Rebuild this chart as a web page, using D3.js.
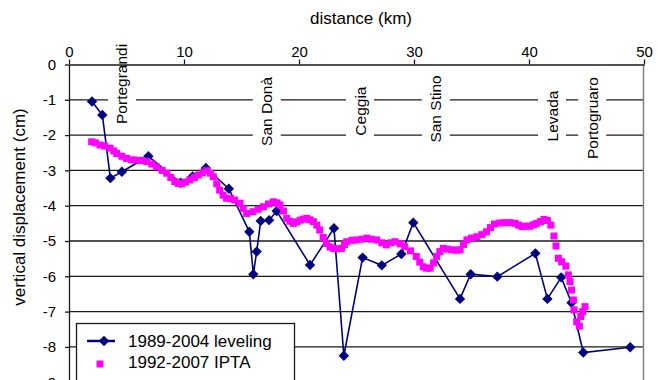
<!DOCTYPE html>
<html>
<head>
<meta charset="utf-8">
<script src="https://cdn.jsdelivr.net/npm/d3@7"></script>
<style>
  body { margin: 0; background: #fff; }
  svg { display: block; font-family: "Liberation Sans", Arial, sans-serif; }
</style>
</head>
<body>
<div id="chart-container"></div>
<script>
// 1989-2004 leveling benchmarks: distance (km), displacement (cm)
var levelingKm = [2.0, 2.9, 3.6, 4.6, 6.9, 9.7, 10.75, 11.9, 13.9, 15.68, 16.03, 16.32, 16.67, 17.4, 18.06,
  20.96, 23.04, 23.9, 25.53, 27.2, 28.9, 29.94, 34.0, 34.93, 37.24, 40.55, 41.6, 42.8, 43.7, 44.72, 48.8];
var levelingCm = [-1.05, -1.43, -3.22, -3.04, -2.6, -3.35, -3.17, -2.93, -3.52, -4.74, -5.94, -5.3, -4.43, -4.41, -4.15,
  -5.68, -4.64, -8.25, -5.47, -5.69, -5.37, -4.48, -6.64, -5.94, -6.01, -5.35, -6.64, -6.03, -6.75, -8.16, -8.01];

// 1992-2007 IPTA points
var iptaKm = [1.97, 2.3, 2.7, 3.1, 3.57, 3.9, 4.15, 4.6, 5.0, 5.45, 5.9, 6.3, 6.75, 7.2, 7.6, 8.1, 8.5, 8.85, 9.2, 9.5,
  9.8, 10.15, 10.5, 10.9, 11.25, 11.6, 11.97, 12.3, 12.55, 12.85, 13.1, 13.4, 13.7, 14.05, 14.4, 14.87, 15.15, 15.45,
  16.0, 16.45, 16.9, 17.35, 17.77, 18.1, 18.35, 18.65, 18.93, 19.2, 19.5, 19.8, 20.1, 20.4, 20.67, 20.95, 21.25, 21.55,
  21.8, 22.1, 22.4, 22.7, 22.98, 23.35, 23.7, 23.95, 24.15, 24.6, 25.0, 25.45, 25.9, 26.3, 26.75, 27.2, 27.6, 28.0,
  28.35, 28.8, 29.2, 29.7, 30.2, 30.5, 30.8, 31.1, 31.4, 31.7, 31.97, 32.25, 32.55, 32.9, 33.3, 33.65, 34.0, 34.3,
  34.6, 35.0, 35.45, 35.9, 36.3, 36.65, 37.0, 37.45, 37.9, 38.35, 38.8, 39.1, 39.4, 39.75, 40.1, 40.4, 40.67, 41.0,
  41.3, 41.6, 41.9, 42.17, 42.35, 42.55, 42.84, 43.2, 43.42, 43.57, 43.7, 43.86, 43.91, 44.15, 44.38, 44.5, 44.67, 44.87];
var iptaCm = [-2.19, -2.22, -2.28, -2.31, -2.37, -2.45, -2.52, -2.6, -2.66, -2.7, -2.71, -2.72, -2.75, -2.82, -2.9,
  -3.0, -3.08, -3.2, -3.32, -3.37, -3.38, -3.33, -3.27, -3.2, -3.13, -3.07, -3.01, -3.08, -3.18, -3.38, -3.56, -3.7,
  -3.79, -3.8, -3.84, -3.93, -4.08, -4.22, -4.17, -4.1, -4.03, -3.95, -3.89, -3.92, -3.98, -4.15, -4.36, -4.44, -4.5,
  -4.46, -4.41, -4.38, -4.36, -4.4, -4.45, -4.55, -4.69, -4.9, -5.07, -5.17, -5.21, -5.22, -5.21, -5.1, -5.02, -4.98,
  -4.97, -4.95, -4.92, -4.95, -4.97, -5.05, -5.11, -5.05, -5.02, -5.08, -5.16, -5.28, -5.44, -5.6, -5.73, -5.77, -5.77,
  -5.62, -5.44, -5.3, -5.21, -5.23, -5.25, -5.26, -5.25, -5.1, -4.97, -4.92, -4.88, -4.82, -4.74, -4.62, -4.52, -4.49,
  -4.48, -4.48, -4.5, -4.55, -4.59, -4.58, -4.58, -4.54, -4.5, -4.45, -4.39, -4.42, -4.55, -4.86, -5.14, -5.49, -5.59,
  -5.71, -5.96, -6.15, -6.39, -6.67, -6.95, -7.29, -7.41, -7.14, -7.0, -6.86];

var xTicks = [0, 10, 20, 30, 40, 50];
var yTicks = [0, -1, -2, -3, -4, -5, -6, -7, -8, -9];

var townNames = ["Portegrandi", "San Donà", "Ceggia", "San Stino", "Levada", "Portogruaro"];
var townKm = [4.6, 17.2, 25.3, 31.9, 42.0, 45.5];
var townMidCm = [-0.55, -1.33, -1.32, -1.26, -1.46, -1.52];

var seriesNames = ["1989-2004 leveling", "1992-2007 IPTA"];

var width = 658, height = 380;
var svg = d3.select("#chart-container").append("svg")
    .attr("width", width)
    .attr("height", height);

var x = d3.scaleLinear().domain([0, 50]).range([69, 644]);
var y = d3.scaleLinear().domain([0, -9]).range([64.5, 382.2]);

// horizontal gridlines
svg.append("g").selectAll("line")
    .data(yTicks.slice(1))
    .enter().append("line")
    .attr("x1", x(0)).attr("x2", x(50))
    .attr("y1", function(d) { return y(d); })
    .attr("y2", function(d) { return y(d); })
    .attr("stroke", "#1a1a1a")
    .attr("stroke-width", 1.3);

// right border
svg.append("line")
    .attr("x1", x(50) - 0.5).attr("x2", x(50) - 0.5)
    .attr("y1", y(0)).attr("y2", height)
    .attr("stroke", "#808080")
    .attr("stroke-width", 1.5);

// town labels with white boxes
var town = svg.append("g").selectAll("g")
    .data(townNames)
    .enter().append("g")
    .attr("transform", function(d, i) {
      return "translate(" + x(townKm[i]) + "," + y(townMidCm[i]) + ") rotate(-90)";
    });

town.append("text")
    .attr("text-anchor", "middle")
    .attr("dy", "0.36em")
    .attr("font-size", 15.5)
    .text(function(d) { return d; })
    .each(function() {
      var b = this.getBBox();
      d3.select(this.parentNode).insert("rect", "text")
        .attr("x", b.x - 3).attr("y", -14)
        .attr("width", b.width + 6).attr("height", 28)
        .attr("fill", "#fff");
    });

// axes
var topAxis = svg.append("g")
    .attr("transform", "translate(0," + y(0) + ")")
    .call(d3.axisTop(x).tickValues(xTicks).tickSize(5).tickSizeOuter(0).tickPadding(3));
topAxis.selectAll("text").attr("font-size", 15).attr("fill", "#000");
topAxis.selectAll("line, path").attr("stroke", "#1a1a1a").attr("stroke-width", 1.3);

var leftAxis = svg.append("g")
    .attr("transform", "translate(" + x(0) + ",0)")
    .call(d3.axisLeft(y).tickValues(yTicks).tickSize(4).tickSizeOuter(0).tickPadding(9)
      .tickFormat(function(d) { return String(d); }));
leftAxis.selectAll("text").attr("font-size", 15).attr("fill", "#000");
leftAxis.selectAll("line, path").attr("stroke", "#1a1a1a").attr("stroke-width", 1.3);

svg.append("text")
    .attr("x", 361).attr("y", 24)
    .attr("text-anchor", "middle")
    .attr("font-size", 17)
    .text("distance (km)");

svg.append("text")
    .attr("transform", "translate(19,207) rotate(-90)")
    .attr("text-anchor", "middle")
    .attr("dy", "0.35em")
    .attr("font-size", 17)
    .text("vertical displacement (cm)");

// leveling series
var navy = "#000080";
var diamond = "M0,-5.2L5.2,0L0,5.2L-5.2,0Z";
var line = d3.line()
    .x(function(d, i) { return x(levelingKm[i]); })
    .y(function(d) { return y(d); });

svg.append("path")
    .attr("d", line(levelingCm))
    .attr("fill", "none")
    .attr("stroke", navy)
    .attr("stroke-width", 1.6);

svg.append("g").selectAll("path")
    .data(levelingCm)
    .enter().append("path")
    .attr("transform", function(d, i) { return "translate(" + x(levelingKm[i]) + "," + y(d) + ")"; })
    .attr("d", diamond)
    .attr("fill", navy);

// IPTA series
svg.append("g").selectAll("rect")
    .data(iptaCm)
    .enter().append("rect")
    .attr("x", function(d, i) { return x(iptaKm[i]) - 3.5; })
    .attr("y", function(d) { return y(d) - 3.5; })
    .attr("width", 7).attr("height", 7)
    .attr("fill", "#ff00ff");

// legend
var legend = svg.append("g");
legend.append("rect")
    .attr("x", 76.5).attr("y", 323.5)
    .attr("width", 218).attr("height", 80)
    .attr("fill", "#fff")
    .attr("stroke", "#1a1a1a")
    .attr("stroke-width", 1.3);
legend.append("line")
    .attr("x1", 87).attr("x2", 115).attr("y1", 341).attr("y2", 341)
    .attr("stroke", navy).attr("stroke-width", 2.5);
legend.append("path")
    .attr("transform", "translate(104,341)")
    .attr("d", diamond)
    .attr("fill", navy);
legend.append("rect")
    .attr("x", 96.5).attr("y", 360.5).attr("width", 7).attr("height", 7)
    .attr("fill", "#ff00ff");
legend.selectAll("text.lbl")
    .data(seriesNames)
    .enter().append("text")
    .attr("class", "lbl")
    .attr("x", 128)
    .attr("y", function(d, i) { return 347 + i * 20.5; })
    .attr("font-size", 17)
    .text(function(d) { return d; });
</script>
</body>
</html>
